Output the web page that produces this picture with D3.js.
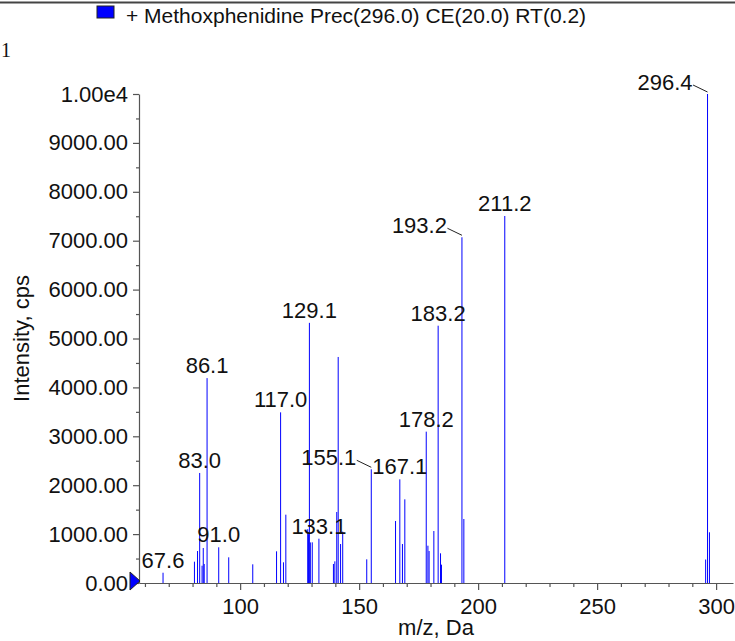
<!DOCTYPE html>
<html><head><meta charset="utf-8">
<script src="https://cdn.jsdelivr.net/npm/d3@7"></script>
<style>
html,body{margin:0;padding:0;background:#fff;}
svg{display:block;font-family:"Liberation Sans",Arial,sans-serif;}
</style>
</head><body>
<svg id="chart" width="735" height="641"></svg>
<script>
// ---- data ----
const mz = [67.6, 80.8, 82.1, 83.0, 84.0, 84.5, 84.9, 86.1, 91.0, 95.2, 105.3, 115.3, 117.0, 118.2, 119.2,
  128.4, 128.7, 129.1, 129.5, 130.3, 133.1, 139.2, 139.8, 140.6, 141.2, 142.2, 143.1, 153.2, 155.1,
  165.3, 167.1, 168.2, 169.2, 178.2, 178.9, 179.4, 181.4, 183.2, 184.2, 184.6, 193.2, 194.0, 211.2,
  295.6, 296.4, 297.2];
const intensity = [210, 436, 654, 2250, 354, 716, 389, 4190, 730, 525, 382, 648, 3490, 423, 1397,
  1100, 1000, 5320, 830, 832, 906, 389, 443, 1452, 4622, 797, 1050, 484, 2325,
  1268, 2120, 797, 1711, 3095, 763, 654, 1063, 5262, 607, 375, 7070, 1309, 7505,
  480, 10000, 1037];
const labeledPeaks = [67.6, 83.0, 86.1, 91.0, 117.0, 129.1, 133.1, 155.1, 167.1, 178.2, 183.2, 193.2, 211.2, 296.4];
const leaderPeaks = [155.1, 193.2, 296.4];
const yTickValues = [0, 1000, 2000, 3000, 4000, 5000, 6000, 7000, 8000, 9000, 10000];
const yTickLabels = ["0.00", "1000.00", "2000.00", "3000.00", "4000.00", "5000.00", "6000.00", "7000.00", "8000.00", "9000.00", "1.00e4"];
const yMinorTicks = [500, 1500, 2500, 3500, 4500, 5500, 6500, 7500, 8500, 9500];
const xTickValues = [100, 150, 200, 250, 300];
const xTickLabels = ["100", "150", "200", "250", "300"];
const xMinorTicks = [60, 70, 80, 90, 110, 120, 130, 140, 160, 170, 180, 190, 210, 220, 230, 240, 260, 270, 280, 290];
const legendText = "+ Methoxphenidine Prec(296.0) CE(20.0) RT(0.2)";
const xTitle = "m/z, Da";
const yTitle = "Intensity, cps";
const pageNumber = "1";

// ---- layout ----
const svg = d3.select("#chart");
const plotLeft = 139, plotRight = 733, plotTop = 94, plotBottom = 583;
const x = d3.scaleLinear().domain([57.5, 307.1]).range([plotLeft, plotRight]);
const y = d3.scaleLinear().domain([0, 10000]).range([plotBottom, plotTop]);
const fs = 22;
const axisColor = "#555";

// top rule
svg.append("line").attr("x1", 0).attr("x2", 735).attr("y1", 2.5).attr("y2", 2.5)
  .attr("stroke", "#444").attr("stroke-width", 2);

// legend
svg.append("rect").attr("x", 97).attr("y", 6).attr("width", 17).attr("height", 12)
  .attr("fill", "#0000ff").attr("stroke", "#222").attr("stroke-width", 1);
svg.append("text").attr("x", 126).attr("y", 23).attr("font-size", 21).attr("fill", "#111").text(legendText);

// page number
svg.append("text").attr("x", 1).attr("y", 57).attr("font-size", 20)
  .attr("font-family", "'Liberation Serif', 'Times New Roman', serif").attr("fill", "#111").text(pageNumber);

// bars
const peaks = mz.map((m, i) => ({ m, v: intensity[i] }));
svg.append("g").selectAll("line").data(peaks).join("line")
  .attr("x1", d => x(d.m)).attr("x2", d => x(d.m))
  .attr("y1", y(0)).attr("y2", d => y(d.v))
  .attr("stroke", "#0000ff").attr("stroke-width", 1);

// y axis
const yAxis = d3.axisLeft(y).tickValues(yTickValues)
  .tickFormat((d, i) => yTickLabels[i]).tickSize(6).tickSizeOuter(0).tickPadding(5);
const gy = svg.append("g").attr("transform", `translate(${plotLeft},0)`).call(yAxis);
const yMinor = d3.axisLeft(y).tickValues(yMinorTicks).tickFormat("").tickSize(3).tickSizeOuter(0);
const gym = svg.append("g").attr("transform", `translate(${plotLeft},0)`).call(yMinor);
gym.select(".domain").remove();

// x axis
const xAxis = d3.axisBottom(x).tickValues(xTickValues)
  .tickFormat((d, i) => xTickLabels[i]).tickSize(7).tickSizeOuter(0).tickPadding(8);
const gx = svg.append("g").attr("transform", `translate(0,${plotBottom})`).call(xAxis);
const xMinor = d3.axisBottom(x).tickValues(xMinorTicks).tickFormat("").tickSize(4).tickSizeOuter(0);
const gxm = svg.append("g").attr("transform", `translate(0,${plotBottom})`).call(xMinor);
gxm.select(".domain").remove();

[gy, gym, gx, gxm].forEach(g => {
  g.selectAll("path,line").attr("stroke", axisColor).attr("stroke-width", 1.2);
  g.selectAll("text").attr("font-size", fs).attr("fill", "#111")
    .attr("font-family", "'Liberation Sans', Arial, sans-serif");
});

// zero marker triangle
svg.append("path")
  .attr("d", d3.line()([[plotLeft - 9, y(0) - 11], [plotLeft + 1, y(0) - 2], [plotLeft - 9, y(0) + 7]]) + "Z")
  .attr("fill", "#0000ff").attr("stroke", "#222").attr("stroke-width", 1);

// axis titles
svg.append("text").attr("x", (plotLeft + plotRight) / 2).attr("y", 635)
  .attr("text-anchor", "middle").attr("font-size", fs).attr("fill", "#111").text(xTitle);
svg.append("text").attr("transform", `translate(29,${(plotTop + plotBottom) / 2}) rotate(-90)`)
  .attr("text-anchor", "middle").attr("font-size", fs).attr("fill", "#111").text(yTitle);

// peak labels
const lab = svg.append("g").attr("font-size", fs).attr("fill", "#111");
labeledPeaks.forEach(p => {
  const pk = peaks.find(d => d.m === p);
  const px = x(pk.m), py = y(pk.v);
  if (leaderPeaks.includes(p)) {
    lab.append("text").attr("x", px - 15).attr("y", py - 4).attr("text-anchor", "end").text(p.toFixed(1));
    lab.append("line").attr("x1", px - 14.5).attr("y1", py - 9).attr("x2", px).attr("y2", py - 2)
      .attr("stroke", "#222").attr("stroke-width", 1);
  } else {
    lab.append("text").attr("x", px).attr("y", py - 5).attr("text-anchor", "middle").text(p.toFixed(1));
  }
});
</script>
</body></html>
